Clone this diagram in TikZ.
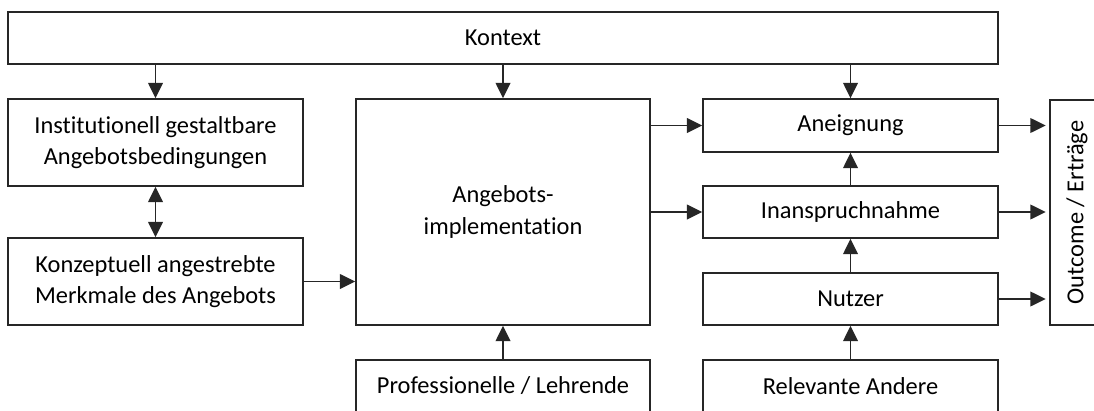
\documentclass[tikz,border=0pt]{standalone}
\usepackage{fontspec}
\setmainfont[Ligatures=NoCommon]{Carlito}
\usetikzlibrary{arrows.meta}
\begin{document}
\begin{tikzpicture}[x=0.75pt,y=-0.75pt,
  box/.style={draw=black!85, line width=1.1pt, align=center, inner sep=2pt,
    font=\fontsize{18.3}{23.5}\selectfont},
  arr/.style={draw=black!85, line width=1.1pt, -{Triangle[length=11.5pt,width=11pt]}},
  darr/.style={draw=black!85, line width=1.1pt, {Triangle[length=11.5pt,width=11pt]}-{Triangle[length=11.5pt,width=11pt]}}]
\useasboundingbox (0,0) rectangle (1094,410);
\clip (0,0) rectangle (1094,410);
\node[box, minimum width=742.5pt, minimum height=39pt] (kontext) at (503,38) {Kontext};
\node[box, minimum width=221.25pt, minimum height=65.25pt] (inst) at (155.5,142.5) {Institutionell gestaltbare\\Angebotsbedingungen};
\node[box, minimum width=221.25pt, minimum height=65.25pt] (konz) at (155.5,281.5) {Konzeptuell angestrebte\\Merkmale des Angebots};
\node[box, minimum width=220.5pt, minimum height=169.5pt] (impl) at (503,212) {Angebots-\\implementation};
\node[box, minimum width=220.5pt, minimum height=39pt] (prof) at (503,386) {Professionelle / Lehrende};
\node[box, minimum width=221.25pt, minimum height=39.75pt] (aneig) at (850.5,125.5) {Aneignung};
\node[box, minimum width=221.25pt, minimum height=39pt] (inan) at (850.5,212) {Inanspruchnahme};
\node[box, minimum width=221.25pt, minimum height=39pt] (nutz) at (850.5,299) {Nutzer};
\node[box, minimum width=221.25pt, minimum height=39pt] (rel) at (850.5,386) {Relevante Andere};
\node[box, minimum width=168.75pt, minimum height=40.5pt, rotate=90] (out) at (1077,212.5) {Outcome / Erträge};
\draw[arr] (kontext.south -| inst.north) -- (inst.north);
\draw[arr] (kontext.south -| impl.north) -- (impl.north);
\draw[arr] (kontext.south -| aneig.north) -- (aneig.north);
\draw[darr] (inst.south) -- (konz.north);
\draw[arr] (konz.east) -- (konz.east -| impl.west);
\draw[arr] (prof.north) -- (impl.south);
\draw[arr] (impl.east |- aneig.west) -- (aneig.west);
\draw[arr] (impl.east |- inan.west) -- (inan.west);
\draw[arr] (inan.north) -- (aneig.south);
\draw[arr] (nutz.north) -- (inan.south);
\draw[arr] (rel.north) -- (nutz.south);
\draw[arr] (aneig.east) -- ++(47,0) coordinate (o1);
\draw[arr] (inan.east) -- ++(47,0) coordinate (o2);
\draw[arr] (nutz.east) -- ++(47,0) coordinate (o3);
\end{tikzpicture}
\end{document}
